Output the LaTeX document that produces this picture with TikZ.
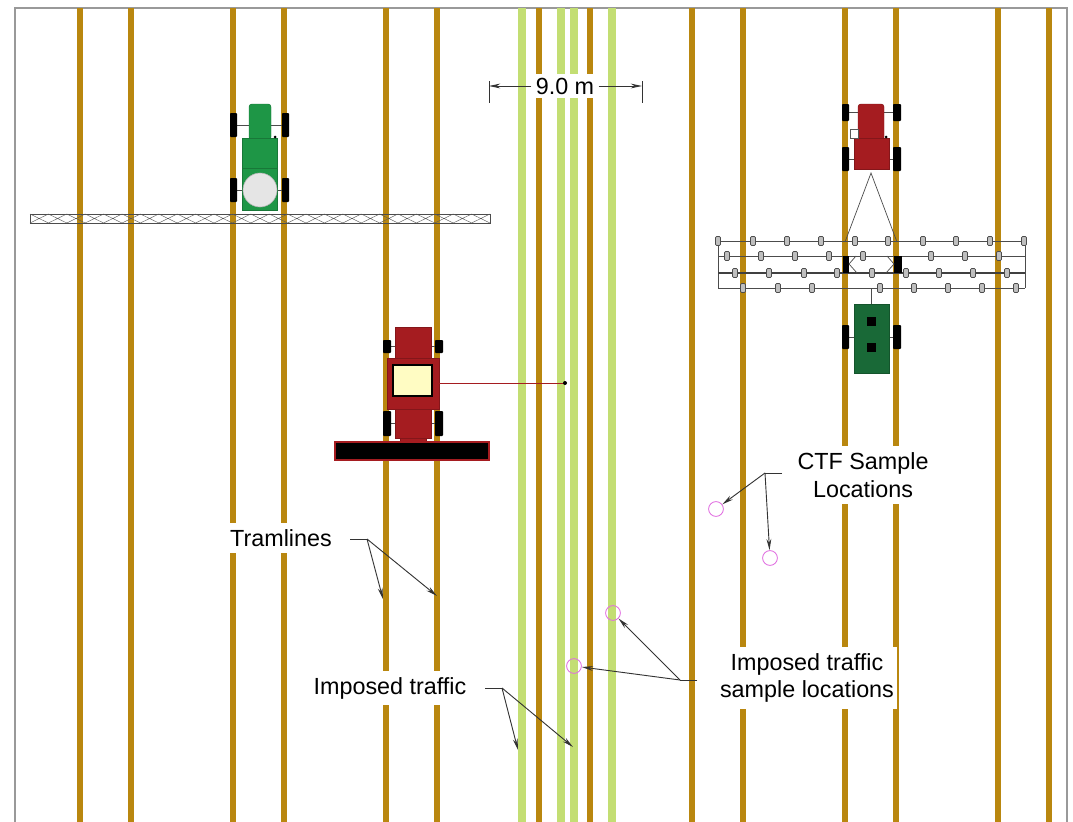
\documentclass[tikz,border=0pt]{standalone}
\usepackage{fontspec}
\setmainfont{Liberation Sans}
\usetikzlibrary{arrows.meta}

\definecolor{tramBrown}{RGB}{185,135,15}
\definecolor{trafficGreen}{RGB}{195,222,115}
\definecolor{sprayGreen}{RGB}{30,150,70}
\definecolor{cartGreen}{RGB}{25,105,55}
\definecolor{machineRed}{RGB}{165,28,32}
\definecolor{tankYellow}{RGB}{255,252,195}
\definecolor{samplePink}{RGB}{225,110,225}

\begin{document}
\begin{tikzpicture}[
    x=0.025cm, y=-0.025cm,
    tram/.style={line width=3.6pt, tramBrown},
    traffic/.style={line width=5.6pt, trafficGreen},
    wheel/.style={fill=black, rounded corners=0.6pt},
    axle/.style={draw=black!70, line width=0.5pt},
    body/.style={fill=#1, draw=#1!80!black, line width=0.3pt},
    tine/.style={fill=gray!50, draw=gray!60!black, line width=0.4pt, rounded corners=0.8pt},
    bar/.style={draw=gray!60!black, line width=0.5pt},
    frameline/.style={draw=black!40, thick},
    leader/.style={draw=black!80, line width=0.65pt},
    pointer/.style={leader, -{Stealth[length=8pt,width=3.4pt]}},
    callout/.style={fill=white, align=center, font=\fontsize{16.6}{19.8}\selectfont,
                    inner xsep=2pt, inner ysep=4.5pt},
    sample/.style={circle, draw=samplePink, line width=0.6pt, minimum size=0.37cm, inner sep=0pt}
]
    \useasboundingbox (0,0) rectangle (1073,822);
    \fill[white] (0,0) rectangle (1073,822);

    % Frame
    \draw[frameline] (15,822) -- (15,8) -- (1067,8) -- (1067,822);

    % Imposed traffic wheelings
    \foreach \x in {522,561,574,612}
        \draw[traffic] (\x,8) -- (\x,822);

    % Tramlines, one pair per 9 m pass
    \foreach \k in {0,...,6} {
        \draw[tram] ({80+153*\k},8) -- ({80+153*\k},822);
        \draw[tram] ({131+153*\k},8) -- ({131+153*\k},822);
    }

    % Sprayer boom
    \draw[bar] (30,214) rectangle (490,223);
    \foreach \i in {0,...,24}
        \draw[gray!70!black, line width=0.3pt] ({30+18.4*\i},214) -- ({30+18.4*(\i+1)},223)
              ({30+18.4*\i},223) -- ({30+18.4*(\i+1)},214);

    % Sprayer
    \draw[axle] (233,125) -- (286,125) (233,190) -- (286,190);
    \fill[wheel] (230,113) rectangle (237,137);
    \fill[wheel] (282,113) rectangle (289,137);
    \fill[wheel] (230,178) rectangle (237,202);
    \fill[wheel] (282,178) rectangle (289,202);
    \draw[body=sprayGreen, rounded corners=2pt] (249,104) rectangle (271,140);
    \draw[body=sprayGreen] (242,138) rectangle (277,168);
    \draw[body=sprayGreen] (242,168) rectangle (277,210);
    \draw[fill=gray!20, draw=gray!60] (260,190) circle[radius=17];
    \fill (275,137) circle[radius=1.5];

    % Combine harvester
    \draw[axle] (386,346) -- (440,346) (386,423) -- (440,423);
    \fill[wheel] (383,340) rectangle (391,353);
    \fill[wheel] (435,340) rectangle (443,353);
    \fill[wheel] (383,411) rectangle (391,436);
    \fill[wheel] (435,411) rectangle (443,436);
    \draw[body=machineRed] (395,327) rectangle (431,358);
    \draw[body=machineRed] (387,358) rectangle (439,409);
    \draw[body=machineRed] (395,409) rectangle (431,438);
    \draw[body=machineRed] (400,438) rectangle (426,443);
    \draw[fill=tankYellow, draw=black, line width=1.4pt] (393,365) rectangle (432,396);
    \draw[fill=black, draw=machineRed, line width=0.8pt] (335,442) rectangle (489,460);
    % unloading auger
    \draw[machineRed, line width=0.7pt] (439,383) -- (565,383);
    \fill (565,383) circle[radius=2];

    % Tractor
    \draw[axle] (845,112) -- (898,112) (845,159) -- (898,159);
    \fill[wheel] (842,104) rectangle (849,121);
    \fill[wheel] (893,104) rectangle (901,121);
    \fill[wheel] (842,147) rectangle (849,171);
    \fill[wheel] (893,147) rectangle (901,171);
    \draw[body=machineRed, rounded corners=2pt] (858,104) rectangle (884,140);
    \draw[body=machineRed] (854,138) rectangle (889,169);
    \draw[gray!70!black, fill=white, line width=0.4pt] (850,129) rectangle (858,138);
    \fill (886,137) circle[radius=1.5];
    \draw[bar] (845,242) -- (871,173) -- (897,242);

    % Seeder frame
    \draw[bar] (718,241) -- (1025,241) (718,256) -- (1025,256)
               (718,288) -- (1025,288) (718,241) -- (718,288) (1025,241) -- (1025,288);
    \draw[gray!50!black, line width=0.9pt] (718,273) -- (1025,273);
    \fill[black] (843,256) rectangle (849,273);
    \fill[black] (894,256) rectangle (902,273);
    \draw[bar] (856,256) -- (849,264) -- (857,273) (887,256) -- (894,264) -- (886,273);
    % openers
    \foreach \x in {718,753,787,821,855,888,923,956,990,1024}
        \draw[tine] (\x-2.5,236.5) rectangle (\x+2.5,245.5);
    \foreach \x in {727,761,795,829,863,931,965,999}
        \draw[tine] (\x-2.5,251.5) rectangle (\x+2.5,260.5);
    \foreach \x in {735,769,804,837,872,906,939,973,1007}
        \draw[tine] (\x-2.5,268.5) rectangle (\x+2.5,277.5);
    \foreach \x in {743,778,812,880,914,948,982,1016}
        \draw[tine] (\x-2.5,283.5) rectangle (\x+2.5,292.5);

    % Seed cart
    \draw[bar] (871,288) -- (871,304);
    \draw[axle] (845,337) -- (898,337);
    \fill[wheel] (842,325) rectangle (849,349);
    \fill[wheel] (893,325) rectangle (901,349);
    \draw[body=cartGreen] (854,304) rectangle (889,373);
    \fill[black] (867,317) rectangle (876,326);
    \fill[black] (867,343) rectangle (876,352);

    % Sample locations
    \node[sample] (ctfA) at (716,509) {};
    \node[sample] (ctfB) at (770,558) {};
    \node[sample] (trafA) at (613,613) {};
    \node[sample] (trafB) at (574,666) {};

    % Labels
    \node[callout] (tramlbl) at (281,538) {Tramlines};
    \node[callout] (traflbl) at (390,688) {Imposed traffic};
    \node[callout] (ctflbl) at (863,475) {CTF Sample\\Locations};
    \node[callout] (samplbl) at (807,678) {Imposed traffic\\sample locations};
    \node[callout, inner xsep=3pt, inner ysep=2.5pt] (span) at (565,86) {9.0 m};

    % Leaders
    \coordinate (tramstart) at (350,539);
    \coordinate (tramknee) at (367,539);
    \coordinate (tramA) at (383,599);
    \coordinate (tramB) at (437,596);
    \draw[leader] (tramstart) -- (tramknee);
    \draw[pointer] (tramknee) -- (tramA);
    \draw[pointer] (tramknee) -- (tramB);

    \coordinate (trafstart) at (485,688);
    \coordinate (trafknee) at (502,688);
    \coordinate (wheelA) at (518,750);
    \coordinate (wheelB) at (573,747);
    \draw[leader] (trafstart) -- (trafknee);
    \draw[pointer] (trafknee) -- (wheelA);
    \draw[pointer] (trafknee) -- (wheelB);

    \coordinate (sampstart) at (697,680);
    \coordinate (sampknee) at (680,680);
    \draw[leader] (sampstart) -- (sampknee);
    \draw[pointer] (sampknee) -- (trafA);
    \draw[pointer] (sampknee) -- (trafB);

    \coordinate (ctfstart) at (782,473);
    \coordinate (ctfknee) at (765,473);
    \draw[leader] (ctfstart) -- (ctfknee);
    \draw[pointer] (ctfknee) -- (ctfA);
    \draw[pointer] (ctfknee) -- (ctfB);

    % Pass width
    \coordinate (spanL) at (489,86);
    \coordinate (spanR) at (642,86);
    \draw[pointer] (span) -- (spanL);
    \draw[pointer] (span) -- (spanR);
    \draw[leader] (spanL) ++(0,-5) -- ++(0,22);
    \draw[leader] (spanR) ++(0,-5) -- ++(0,22);
\end{tikzpicture}
\end{document}
